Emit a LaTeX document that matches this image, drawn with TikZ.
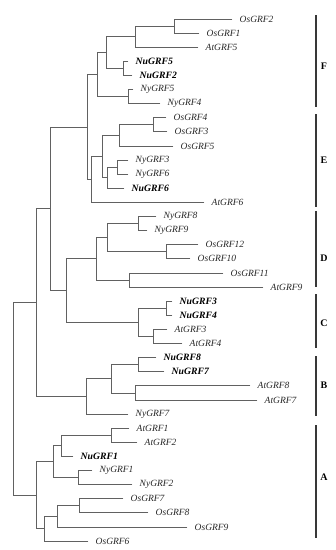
\documentclass[tikz,border=0pt]{standalone}
\usepackage{fontspec}
\setmainfont{Liberation Serif}
\tikzset{
  br/.style={draw=black!62, line width=0.8pt, line cap=rect},
  bar/.style={draw=black!78, line width=1.9pt},
  lab/.style={anchor=west, inner sep=0pt, text=black!85, font=\fontsize{9.5}{11}\selectfont\itshape},
  blab/.style={anchor=west, inner sep=0pt, text=black, font=\fontsize{9.7}{11}\selectfont\bfseries\itshape},
  clab/.style={inner sep=0pt, text=black, font=\fontsize{10}{12}\selectfont\bfseries}
}
\newcommand\lf[5]{\coordinate (#1) at (#3,#2); \node[#5] (#1l) at ([xshift=7.5pt]#1) {#4};}
\begin{document}
\begin{tikzpicture}[x=1pt,y=-14.11pt]
\useasboundingbox (0,-1.3466) rectangle (336,37.633);
% leaves
\lf{Os2}{0}{232}{OsGRF2}{lab}
\lf{Os1}{1}{199}{OsGRF1}{lab}
\lf{At5}{2}{198}{AtGRF5}{lab}
\lf{Nu5}{3}{128}{NuGRF5}{blab}
\lf{Nu2}{4}{132}{NuGRF2}{blab}
\lf{Ny5}{5}{133}{NyGRF5}{lab}
\lf{Ny4}{6}{160}{NyGRF4}{lab}
\lf{Os4}{7}{166}{OsGRF4}{lab}
\lf{Os3}{8}{167}{OsGRF3}{lab}
\lf{Os5}{9}{173}{OsGRF5}{lab}
\lf{Ny3}{10}{128}{NyGRF3}{lab}
\lf{Ny6}{11}{128}{NyGRF6}{lab}
\lf{Nu6}{12}{124}{NuGRF6}{blab}
\lf{At6}{13}{204}{AtGRF6}{lab}
\lf{Ny8}{14}{156}{NyGRF8}{lab}
\lf{Ny9}{15}{147}{NyGRF9}{lab}
\lf{Os12}{16}{198}{OsGRF12}{lab}
\lf{Os10}{17}{190}{OsGRF10}{lab}
\lf{Os11}{18}{223}{OsGRF11}{lab}
\lf{At9}{19}{263}{AtGRF9}{lab}
\lf{Nu3}{20}{172}{NuGRF3}{blab}
\lf{Nu4}{21}{172}{NuGRF4}{blab}
\lf{At3}{22}{167}{AtGRF3}{lab}
\lf{At4}{23}{182}{AtGRF4}{lab}
\lf{Nu8}{24}{156}{NuGRF8}{blab}
\lf{Nu7}{25}{164}{NuGRF7}{blab}
\lf{At8}{26}{250}{AtGRF8}{lab}
\lf{At7}{27}{257}{AtGRF7}{lab}
\lf{Ny7}{28}{128}{NyGRF7}{lab}
\lf{At1}{29}{129}{AtGRF1}{lab}
\lf{At2}{30}{137}{AtGRF2}{lab}
\lf{Nu1}{31}{73}{NuGRF1}{blab}
\lf{Ny1}{32}{92}{NyGRF1}{lab}
\lf{Ny2}{33}{132}{NyGRF2}{lab}
\lf{Os7}{34}{123}{OsGRF7}{lab}
\lf{Os8}{35}{148}{OsGRF8}{lab}
\lf{Os9}{36}{187}{OsGRF9}{lab}
\lf{Os6}{37}{88}{OsGRF6}{lab}
% internal nodes
\coordinate (n1) at (174,0.5);
\coordinate (n2) at (135,1.25);
\coordinate (n3) at (123,3.5);
\coordinate (n4) at (106,2.375);
\coordinate (n5) at (128,5.5);
\coordinate (n6) at (97,3.9375);
\coordinate (n7) at (153,7.5);
\coordinate (n8) at (119,8.25);
\coordinate (n9) at (117,10.5);
\coordinate (n10) at (107,11.25);
\coordinate (n11) at (102,9.75);
\coordinate (n12) at (91,11.375);
\coordinate (n13) at (87,7.65625);
\coordinate (n14) at (138,14.5);
\coordinate (n15) at (166,16.5);
\coordinate (n16) at (107,15.5);
\coordinate (n17) at (129,18.5);
\coordinate (n18) at (96,17);
\coordinate (n19) at (166,20.5);
\coordinate (n20) at (153,22.5);
\coordinate (n21) at (138,21.5);
\coordinate (n22) at (66,19.25);
\coordinate (n23) at (50,13.453);
\coordinate (n24) at (138,24.5);
\coordinate (n25) at (135,26.5);
\coordinate (n26) at (111,25.5);
\coordinate (n27) at (86,26.75);
\coordinate (n28) at (36,20.1);
\coordinate (n29) at (111,29.5);
\coordinate (n30) at (61,30.25);
\coordinate (n31) at (78,32.5);
\coordinate (n32) at (53,31.375);
\coordinate (n33) at (79,34.5);
\coordinate (n34) at (57,35.25);
\coordinate (n35) at (44,36.125);
\coordinate (n36) at (36,33.75);
\coordinate (root) at (13,26.93);
% branches
\draw[br] (n1) |- (Os2) (n1) |- (Os1);
\draw[br] (n2) |- (n1) (n2) |- (At5);
\draw[br] (n3) |- (Nu5) (n3) |- (Nu2);
\draw[br] (n4) |- (n2) (n4) |- (n3);
\draw[br] (n5) |- (Ny5) (n5) |- (Ny4);
\draw[br] (n6) |- (n4) (n6) |- (n5);
\draw[br] (n7) |- (Os4) (n7) |- (Os3);
\draw[br] (n8) |- (n7) (n8) |- (Os5);
\draw[br] (n9) |- (Ny3) (n9) |- (Ny6);
\draw[br] (n10) |- (n9) (n10) |- (Nu6);
\draw[br] (n11) |- (n8) (n11) |- (n10);
\draw[br] (n12) |- (n11) (n12) |- (At6);
\draw[br] (n13) |- (n6) (n13) |- (n12);
\draw[br] (n14) |- (Ny8) (n14) |- (Ny9);
\draw[br] (n15) |- (Os12) (n15) |- (Os10);
\draw[br] (n16) |- (n14) (n16) |- (n15);
\draw[br] (n17) |- (Os11) (n17) |- (At9);
\draw[br] (n18) |- (n16) (n18) |- (n17);
\draw[br] (n19) |- (Nu3) (n19) |- (Nu4);
\draw[br] (n20) |- (At3) (n20) |- (At4);
\draw[br] (n21) |- (n19) (n21) |- (n20);
\draw[br] (n22) |- (n18) (n22) |- (n21);
\draw[br] (n23) |- (n13) (n23) |- (n22);
\draw[br] (n24) |- (Nu8) (n24) |- (Nu7);
\draw[br] (n25) |- (At8) (n25) |- (At7);
\draw[br] (n26) |- (n24) (n26) |- (n25);
\draw[br] (n27) |- (n26) (n27) |- (Ny7);
\draw[br] (n28) |- (n23) (n28) |- (n27);
\draw[br] (n29) |- (At1) (n29) |- (At2);
\draw[br] (n30) |- (n29) (n30) |- (Nu1);
\draw[br] (n31) |- (Ny1) (n31) |- (Ny2);
\draw[br] (n32) |- (n30) (n32) |- (n31);
\draw[br] (n33) |- (Os7) (n33) |- (Os8);
\draw[br] (n34) |- (n33) (n34) |- (Os9);
\draw[br] (n35) |- (n34) (n35) |- (Os6);
\draw[br] (n36) |- (n32) (n36) |- (n35);
\draw[br] (root) |- (n28) (root) |- (n36);
% clade bars
\coordinate (Ft) at (316,-0.2835); \coordinate (Fb) at (316,6.2367);
\coordinate (Et) at (316,6.733);   \coordinate (Eb) at (316,13.324);
\coordinate (Dt) at (316,13.607);  \coordinate (Db) at (316,18.994);
\coordinate (Ct) at (316,19.490);  \coordinate (Cb) at (316,23.317);
\coordinate (Bt) at (316,23.884);  \coordinate (Bb) at (316,28.136);
\coordinate (At) at (316,28.774);  \coordinate (Ab) at (316,36.782);
\draw[bar] (Ft) -- (Fb);
\draw[bar] (Et) -- (Eb);
\draw[bar] (Dt) -- (Db);
\draw[bar] (Ct) -- (Cb);
\draw[bar] (Bt) -- (Bb);
\draw[bar] (At) -- (Ab);
\node[clab] (F) at (324,3.331) {F};
\node[clab] (E) at (324,9.993) {E};
\node[clab] (D) at (324,16.94) {D};
\node[clab] (C) at (324,21.545) {C};
\node[clab] (B) at (324,25.94) {B};
\node[clab] (A) at (324,32.46) {A};
\end{tikzpicture}
\end{document}
